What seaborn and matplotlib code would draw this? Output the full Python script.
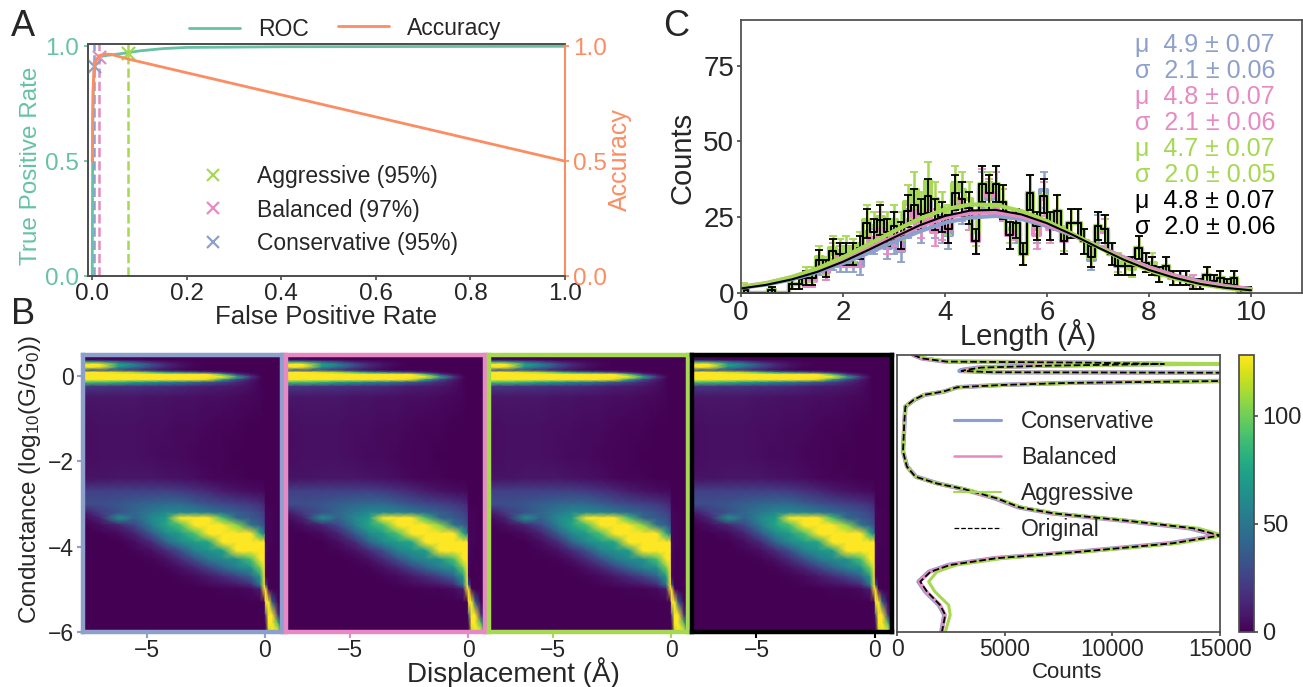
import numpy as np
import matplotlib
matplotlib.use("Agg")
import matplotlib.pyplot as plt
from matplotlib.lines import Line2D
import seaborn as sns

W, H = 1303, 687

sns.set_theme(style="ticks")
plt.rcParams["font.family"] = ["Liberation Sans", "DejaVu Sans"]
plt.rcParams["mathtext.default"] = "regular"
plt.rcParams["axes.edgecolor"] = ".3"
plt.rcParams["xtick.color"] = ".3"
plt.rcParams["ytick.color"] = ".3"
plt.rcParams["xtick.labelcolor"] = ".15"
plt.rcParams["ytick.labelcolor"] = ".15"

BLUE, PINK, GREEN = "#8da0cb", "#e78ac3", "#a6d854"
TEAL, ORANGE = "#66c2a5", "#fc8d62"

# ==========================================================
# DATA
# ==========================================================

# panel A
roc_fpr = [0, 0.0005, 0.001, 0.002, 0.004, 0.008, 0.015, 0.03, 0.05, 0.075, 0.1, 0.15, 0.2, 0.4, 1.0]
roc_tpr = [0, 0.30, 0.60, 0.80, 0.90, 0.94, 0.955, 0.96, 0.965, 0.972, 0.98, 0.99, 0.995, 0.998, 1.0]
acc_fpr = [0, 0.001, 0.002, 0.004, 0.008, 0.015, 0.03, 0.04, 0.075, 1.0]
acc_val = [0.5, 0.70, 0.82, 0.90, 0.94, 0.96, 0.966, 0.965, 0.945, 0.5]
op_names = ["Aggressive (95%)", "Balanced (97%)", "Conservative (95%)"]
op_fpr = [0.075, 0.015, 0.003]
op_tpr = [0.972, 0.955, 0.915]

# panel C
length_lo, length_hi, n_bins = 0, 10, 75
counts_blue = [1, 0, 0, 0, 1, 0, 0, 3, 3, 4, 5, 9, 7, 11, 10,
               10, 10, 9, 19, 17, 20, 15, 17, 14, 23, 25, 21, 30, 23, 21,
               19, 31, 28, 26, 17, 34, 31, 34, 29, 19, 21, 13, 33, 21, 34,
               22, 27, 17, 23, 23, 17, 11, 21, 21, 13, 9, 9, 9, 15, 10,
               9, 6, 9, 5, 5, 5, 3, 3, 6, 4, 5, 3, 5, 1, 1]
counts_pink = [1, 0, 0, 0, 1, 0, 0, 3, 3, 4, 4, 11, 7, 13, 12,
               12, 12, 12, 20, 18, 22, 17, 20, 18, 24, 27, 23, 28, 20, 22,
               21, 31, 29, 26, 17, 35, 32, 34, 29, 19, 22, 13, 33, 19, 31,
               21, 27, 17, 23, 23, 17, 12, 22, 20, 13, 9, 9, 9, 15, 10,
               9, 6, 9, 5, 5, 5, 4, 3, 6, 4, 5, 3, 5, 1, 1]
counts_green = [2, 0, 0, 0, 1, 0, 0, 3, 3, 6, 6, 12, 9, 15, 14,
                15, 14, 16, 24, 22, 25, 22, 24, 22, 30, 34, 28, 37, 31, 28,
                24, 36, 34, 31, 20, 36, 34, 36, 30, 21, 23, 13, 33, 22, 32,
                22, 27, 18, 23, 23, 17, 12, 22, 21, 13, 10, 9, 8, 15, 10,
                10, 6, 9, 5, 5, 5, 3, 3, 6, 4, 5, 3, 5, 1, 1]
counts_black = [1, 0, 0, 0, 1, 0, 0, 3, 3, 5, 5, 11, 8, 14, 13,
                13, 13, 15, 23, 20, 24, 20, 22, 19, 27, 29, 26, 32, 26, 25,
                21, 33, 31, 28, 17, 36, 33, 36, 30, 19, 23, 13, 33, 22, 32,
                22, 27, 17, 23, 23, 17, 12, 22, 21, 13, 9, 9, 9, 15, 10,
                9, 6, 9, 5, 5, 5, 3, 3, 6, 4, 5, 3, 5, 1, 1]

fit_x = [0, 0.5, 1, 1.5, 2, 2.5, 3, 3.5, 4, 4.5, 5, 5.5, 6, 6.5, 7, 7.5, 8, 8.5, 9, 9.5, 10]
fit_blue = [1.7, 2.8, 4.5, 6.9, 9.8, 13.2, 16.9, 20.3, 23.2, 24.9, 25.4, 24.4, 22.1, 19.0, 15.4, 11.8, 8.5, 5.8, 3.8, 2.3, 1.3]
fit_pink = [2.0, 3.3, 5.2, 7.8, 11.0, 14.7, 18.5, 22.0, 24.8, 26.4, 26.6, 25.3, 22.7, 19.2, 15.4, 11.7, 8.4, 5.7, 3.6, 2.2, 1.3]
fit_green = [1.9, 3.2, 5.3, 8.1, 11.8, 16.0, 20.4, 24.5, 27.6, 29.2, 29.0, 27.0, 23.7, 19.5, 15.1, 11.0, 7.5, 4.8, 2.9, 1.6, 0.9]
fit_black = [1.5, 2.7, 4.5, 7.0, 10.3, 14.2, 18.3, 22.3, 25.4, 27.2, 27.4, 25.9, 23.0, 19.2, 15.0, 11.0, 7.6, 5.0, 3.0, 1.7, 0.9]

stat_labels = ["μ  4.9 ± 0.07", "σ  2.1 ± 0.06", "μ  4.8 ± 0.07", "σ  2.1 ± 0.06",
               "μ  4.7 ± 0.07", "σ  2.0 ± 0.05", "μ  4.8 ± 0.07", "σ  2.0 ± 0.06"]
stat_colors = [BLUE, BLUE, PINK, PINK, GREEN, GREEN, "black", "black"]

# panel B, 2D histogram read on a coarse grid
disp_grid = [-7.72, -7, -6.2, -5.5, -4.8, -4.2, -3.6, -3, -2.4, -1.8, -1.2, -0.6, -0.2, -0.02, 0.02, 0.15, 0.3, 0.55, 0.72]
cond_grid = [0.49, 0.38, 0.33, 0.27, 0.2, 0.13, 0.08, 0.03, -0.03, -0.09, -0.15, -0.25, -0.5, -1.2, -1.9, -2.4,
             -2.7, -3.0, -3.2, -3.33, -3.5, -3.7, -3.9, -4.1, -4.3, -4.5, -4.7, -4.9, -5.0, -5.3, -5.6, -5.8, -6.0]
density = [
    [0, 0, 0, 0, 0, 0, 0, 0, 0, 0, 0, 0, 0, 0, 0, 0, 0, 0, 0],
    [2, 2, 1, 1, 0, 0, 0, 0, 0, 0, 0, 0, 0, 0, 0, 0, 0, 0, 0],
    [70, 60, 35, 22, 10, 6, 3, 1, 0, 0, 0, 0, 0, 0, 0, 0, 0, 0, 0],
    [128, 128, 75, 55, 30, 14, 6, 2, 0, 0, 0, 0, 0, 0, 0, 0, 0, 0, 0],
    [128, 125, 65, 45, 25, 12, 5, 1, 0, 0, 0, 0, 0, 0, 0, 0, 0, 0, 0],
    [40, 35, 30, 20, 10, 5, 2, 0, 0, 0, 0, 0, 0, 0, 0, 0, 0, 0, 0],
    [128, 128, 120, 110, 90, 70, 55, 40, 25, 10, 2, 0, 0, 0, 0, 0, 0, 0, 0],
    [128, 128, 128, 128, 128, 128, 128, 128, 128, 90, 25, 6, 0, 0, 0, 0, 0, 0, 0],
    [128, 128, 128, 128, 128, 128, 128, 128, 128, 128, 80, 20, 3, 0, 0, 0, 0, 0, 0],
    [128, 128, 128, 128, 128, 128, 128, 128, 120, 75, 30, 10, 1, 0, 0, 0, 0, 0, 0],
    [90, 90, 85, 75, 70, 60, 55, 45, 35, 25, 15, 6, 1, 0, 0, 0, 0, 0, 0],
    [20, 20, 18, 18, 16, 16, 14, 12, 10, 9, 7, 4, 1, 0, 0, 0, 0, 0, 0],
    [7, 7, 7, 7, 6, 6, 5, 5, 4, 4, 3, 2, 1, 0, 0, 0, 0, 0, 0],
    [4, 5, 5, 5, 4, 4, 3, 3, 2, 1, 1, 0, 0, 0, 0, 0, 0, 0, 0],
    [4, 5, 5, 5, 4, 3, 3, 2, 1, 1, 0, 0, 0, 0, 0, 0, 0, 0, 0],
    [6, 6, 7, 7, 7, 6, 5, 4, 2, 1, 1, 0, 0, 0, 0, 0, 0, 0, 0],
    [24, 24, 24, 24, 24, 24, 22, 18, 14, 9, 6, 4, 3, 2, 0, 0, 0, 0, 0],
    [30, 30, 34, 38, 42, 44, 44, 38, 32, 28, 24, 20, 16, 12, 1, 0, 0, 0, 0],
    [8, 22, 32, 42, 52, 60, 60, 58, 52, 44, 38, 32, 26, 20, 2, 1, 1, 0, 0],
    [2, 12, 65, 40, 60, 70, 128, 128, 128, 90, 42, 35, 30, 24, 2, 1, 1, 0, 0],
    [0, 4, 12, 28, 55, 75, 90, 128, 128, 128, 105, 50, 38, 30, 2, 1, 1, 0, 0],
    [0, 0, 3, 12, 35, 60, 70, 90, 128, 128, 128, 128, 80, 50, 3, 1, 1, 0, 0],
    [0, 0, 0, 4, 15, 40, 60, 70, 75, 128, 128, 128, 128, 128, 3, 1, 1, 0, 0],
    [0, 0, 0, 1, 5, 15, 30, 55, 65, 70, 128, 128, 128, 128, 3, 1, 0, 0, 0],
    [0, 0, 0, 0, 1, 5, 15, 30, 50, 60, 65, 90, 128, 128, 2, 1, 0, 0, 0],
    [0, 0, 0, 0, 0, 1, 5, 12, 25, 40, 55, 65, 100, 128, 2, 0, 0, 0, 0],
    [0, 0, 0, 0, 0, 0, 1, 3, 8, 15, 25, 40, 70, 128, 2, 0, 0, 0, 0],
    [0, 0, 0, 0, 0, 0, 0, 1, 3, 5, 8, 15, 50, 128, 40, 0, 0, 0, 0],
    [0, 0, 0, 0, 0, 0, 0, 0, 0, 1, 1, 3, 10, 128, 128, 3, 0, 0, 0],
    [0, 0, 0, 0, 0, 0, 0, 0, 0, 0, 0, 0, 0, 2, 128, 128, 40, 2, 0],
    [0, 0, 0, 0, 0, 0, 0, 0, 0, 0, 0, 0, 0, 0, 30, 128, 128, 20, 0],
    [0, 0, 0, 0, 0, 0, 0, 0, 0, 0, 0, 0, 0, 0, 0, 128, 128, 90, 2],
    [0, 0, 0, 0, 0, 0, 0, 0, 0, 0, 0, 0, 0, 0, 0, 110, 128, 128, 30],
]

# panel B, marginal counts per conductance level
prof_levels = [0.49, 0.41, 0.336, 0.31, 0.28, 0.24, 0.195, 0.148, 0.117, 0.086, 0.047, 0.0, -0.055, -0.117, -0.164,
               -0.21, -0.266, -0.367, -0.445, -0.5625, -0.72, -1.07, -1.77, -2.125, -2.36, -2.52, -2.65, -2.87, -3.08,
               -3.22, -3.4, -3.57, -3.74, -3.92, -4.12, -4.27, -4.43, -4.59, -4.82, -5.05, -5.37, -5.6, -5.99]
prof_black = [770, 1160, 2300, 9000, 12400, 7000, 3900, 3300, 3000, 4500, 40000, 60000, 60000, 15500, 8000,
              5000, 2800, 2150, 1240, 770, 390, 340, 280, 460, 850, 1850, 3100, 4640, 5700,
              7270, 10800, 13760, 15000, 12830, 8500, 4640, 2470, 1550, 1080, 1390, 2000, 2240, 2090]
prof_blue = [750, 1150, 2250, 8800, 12300, 6900, 3800, 3100, 2900, 4400, 40000, 60000, 60000, 15400, 7900,
             4900, 2800, 2200, 1280, 800, 390, 350, 280, 470, 880, 1900, 3050, 4550, 5650,
             7200, 10700, 13600, 14900, 12700, 8400, 4550, 2400, 1480, 1000, 1310, 1950, 2200, 2060]
prof_pink = [770, 1170, 2300, 9100, 12500, 7000, 3900, 3300, 3050, 4500, 40000, 60000, 60000, 15500, 8000,
             5000, 2800, 2150, 1240, 780, 380, 340, 275, 460, 860, 1850, 3100, 4600, 5700,
             7250, 10750, 13750, 15000, 12800, 8450, 4600, 2450, 1520, 1040, 1350, 2000, 2230, 2080]
prof_green = [900, 1400, 2500, 10000, 17000, 7500, 4000, 3500, 3200, 4700, 42000, 60000, 60000, 15800, 8100,
              5100, 2850, 2150, 1250, 780, 390, 340, 290, 460, 860, 1860, 3200, 4700, 5800,
              7400, 11000, 14000, 15200, 13100, 8800, 5000, 2750, 1850, 1470, 1750, 2400, 2470, 2250]

# ==========================================================
# FIGURE
# ==========================================================

fig = plt.figure(figsize=(W / 100, H / 100), dpi=100)


def px_axes(left, top, right, bottom):
    return fig.add_axes([left / W, 1 - bottom / H, (right - left) / W, (bottom - top) / H])


def fx(px):
    return px / W


def fy(px):
    return 1 - px / H


# ==========================================================
# PANEL A
# ==========================================================

ax_a = px_axes(87.5, 44, 565, 276)
sns.lineplot(x=roc_fpr, y=roc_tpr, color=TEAL, lw=2, estimator=None, sort=False, ax=ax_a)
ax_a.set_xlim(-0.01, 1)
ax_a.set_ylim(0, 1.01)
ax_a.set_xticks([0, 0.2, 0.4, 0.6, 0.8, 1.0])
ax_a.set_yticks([0, 0.5, 1.0])
ax_a.tick_params(axis="x", labelsize=17.5, length=3, pad=2)
ax_a.tick_params(axis="y", labelsize=17.5, length=3, pad=3, color=TEAL, labelcolor=TEAL)
ax_a.set_xlabel("False Positive Rate", fontsize=18.5, va="center")
ax_a.xaxis.set_label_coords(fx(326), fy(317), transform=fig.transFigure)
ax_a.set_ylabel("True Positive Rate", fontsize=17.5, color=TEAL, va="center")
ax_a.yaxis.set_label_coords(fx(31), fy(166), transform=fig.transFigure)

for fpr, tpr, col in zip(op_fpr, op_tpr, [GREEN, PINK, BLUE]):
    ax_a.axvline(fpr, color=col, ls="--", lw=1.8)
    ax_a.scatter([fpr], [tpr], marker="x", color=col, s=90, lw=1.6, zorder=5)

ax_r = ax_a.twinx()
sns.lineplot(x=acc_fpr, y=acc_val, color=ORANGE, lw=2, estimator=None, sort=False, ax=ax_r)
ax_r.set_ylim(0, 1.01)
ax_r.set_yticks([0, 0.5, 1.0])
ax_r.tick_params(axis="y", labelsize=17.5, length=3, pad=3, color=ORANGE, labelcolor=ORANGE)
ax_r.set_ylabel("Accuracy", fontsize=18, color=ORANGE, va="center")
ax_r.yaxis.set_label_coords(fx(620), fy(160), transform=fig.transFigure)
ax_r.spines["right"].set_color(ORANGE)
ax_r.spines["right"].set_linewidth(1.5)

op_handles = [Line2D([], [], ls="", marker="x", color=c, ms=9, mew=1.6) for c in [GREEN, PINK, BLUE]]
fig.legend(op_handles, op_names, loc="center left", bbox_to_anchor=(fx(179), fy(210)), frameon=False,
           fontsize=16.5, labelspacing=0.44, handletextpad=0.9, borderpad=0, labelcolor=".15")
fig.legend([Line2D([], [], color=TEAL, lw=2)], ["ROC"], loc="center left", bbox_to_anchor=(fx(178), fy(30)),
           frameon=False, fontsize=16.5, handlelength=2.2, handletextpad=0.8, borderpad=0, labelcolor=".15")
fig.legend([Line2D([], [], color=ORANGE, lw=2)], ["Accuracy"], loc="center left", bbox_to_anchor=(fx(327), fy(28)),
           frameon=False, fontsize=16.5, handlelength=2.2, handletextpad=0.8, borderpad=0, labelcolor=".15")

# ==========================================================
# PANEL C
# ==========================================================

ax_c = px_axes(741, 20, 1302, 293)
bin_width = (length_hi - length_lo) / n_bins
bin_x = length_lo + bin_width * (np.arange(n_bins) + 0.5)

series_c = [(counts_blue, fit_blue, BLUE, 3), (counts_pink, fit_pink, PINK, 3),
            (counts_green, fit_green, GREEN, 3), (counts_black, fit_black, "black", 1.5)]
for counts, fit, col, lw in series_c:
    counts = np.array(counts)
    sns.lineplot(x=bin_x, y=counts, color=col, lw=lw, drawstyle="steps-mid", estimator=None, sort=False, ax=ax_c)
    ax_c.errorbar(bin_x, counts, yerr=np.sqrt(counts), fmt="none", ecolor=col, elinewidth=1.8 if lw == 3 else 1.3,
                  capsize=3, capthick=1.3)
for counts, fit, col, lw in series_c:
    sns.lineplot(x=fit_x, y=fit, color=col, lw=lw, estimator=None, sort=False, ax=ax_c)

ax_c.set_xlim(0, 11)
ax_c.set_ylim(0, 90)
ax_c.set_xticks([0, 2, 4, 6, 8, 10])
ax_c.set_yticks([0, 25, 50, 75])
ax_c.tick_params(labelsize=20, length=3, pad=2)
ax_c.set_xlabel("Length (Å)", fontsize=21, va="center")
ax_c.xaxis.set_label_coords(fx(1028), fy(335), transform=fig.transFigure)
ax_c.set_ylabel("Counts", fontsize=21, va="center")
ax_c.yaxis.set_label_coords(fx(682), fy(158), transform=fig.transFigure)

for i, (label, col) in enumerate(zip(stat_labels, stat_colors)):
    fig.text(fx(1135), fy(45 + 26 * i), label, color=col, fontsize=18, ha="left", va="center")

# ==========================================================
# PANEL B
# ==========================================================

panel_edges = [(82.7, 282), (286, 485), (489, 688), (692, 892)]
frame_colors = [BLUE, PINK, GREEN, "black"]
for i, ((left, right), col) in enumerate(zip(panel_edges, frame_colors)):
    ax = px_axes(left, 355, right, 632)
    ax.pcolormesh(disp_grid, cond_grid, density, cmap="viridis", vmin=0, vmax=128, shading="gouraud")
    ax.set_xlim(-7.72, 0.72)
    ax.set_ylim(-6, 0.49)
    ax.set_xticks([-5, 0])
    ax.tick_params(axis="x", labelsize=16.5, length=4, width=1.5, color=col, pad=1)
    for spine in ax.spines.values():
        spine.set_color(col)
        spine.set_linewidth(3.2)
    if i == 0:
        ax.set_yticks([0, -2, -4, -6])
        ax.set_yticklabels(["0", "−2", "−4", "−6"])
        ax.tick_params(axis="y", labelsize=16.5, length=4, width=1.5, color=col, pad=2)
        ax.set_ylabel("Conductance (log$_{10}$(G/G$_0$))", fontsize=17.5, va="center")
        ax.yaxis.set_label_coords(fx(30), fy(479), transform=fig.transFigure)
    else:
        ax.set_yticks([])
fig.text(fx(513), fy(673), "Displacement (Å)", fontsize=20, color=".15", ha="center", va="center")

ax_p = px_axes(897, 355, 1220, 632)
sns.lineplot(x=prof_blue, y=prof_levels, color=BLUE, lw=3.2, estimator=None, sort=False, ax=ax_p, label="Conservative")
sns.lineplot(x=prof_pink, y=prof_levels, color=PINK, lw=2.6, estimator=None, sort=False, ax=ax_p, label="Balanced")
sns.lineplot(x=prof_green, y=prof_levels, color=GREEN, lw=2.2, estimator=None, sort=False, ax=ax_p, label="Aggressive")
sns.lineplot(x=prof_black, y=prof_levels, color="black", lw=1.3, ls="--", estimator=None, sort=False, ax=ax_p,
             label="Original")
ax_p.set_xlim(0, 15000)
ax_p.set_ylim(-6, 0.49)
ax_p.set_xticks([0, 5000, 10000, 15000])
ax_p.set_yticks([])
ax_p.tick_params(axis="x", labelsize=16.5, length=3, pad=1)
ax_p.set_xlabel("Counts", fontsize=16, va="center")
ax_p.xaxis.set_label_coords(fx(1067), fy(672), transform=fig.transFigure)
leg = ax_p.legend(loc="center left", bbox_to_anchor=(0.142, 0.565), frameon=False, fontsize=16.5, labelspacing=0.58,
                  handlelength=2.05, handletextpad=0.85, borderpad=0, labelcolor=".15")
for handle in leg.get_lines():
    handle.set_linewidth(handle.get_linewidth() * 0.7)

cax = px_axes(1239, 355, 1254, 632)
mappable = plt.cm.ScalarMappable(norm=plt.Normalize(0, 128), cmap="viridis")
cbar = fig.colorbar(mappable, cax=cax, ticks=[0, 50, 100])
cbar.ax.tick_params(labelsize=17, length=3, pad=3)
cbar.outline.set_edgecolor(".3")

# ==========================================================
# PANEL LETTERS
# ==========================================================

for letter, x, y in [("A", 23, 27), ("B", 23, 314), ("C", 676, 27)]:
    fig.text(fx(x), fy(y), letter, fontsize=26, color=".15", ha="center", va="center")

fig.savefig("out.png", dpi=100)
